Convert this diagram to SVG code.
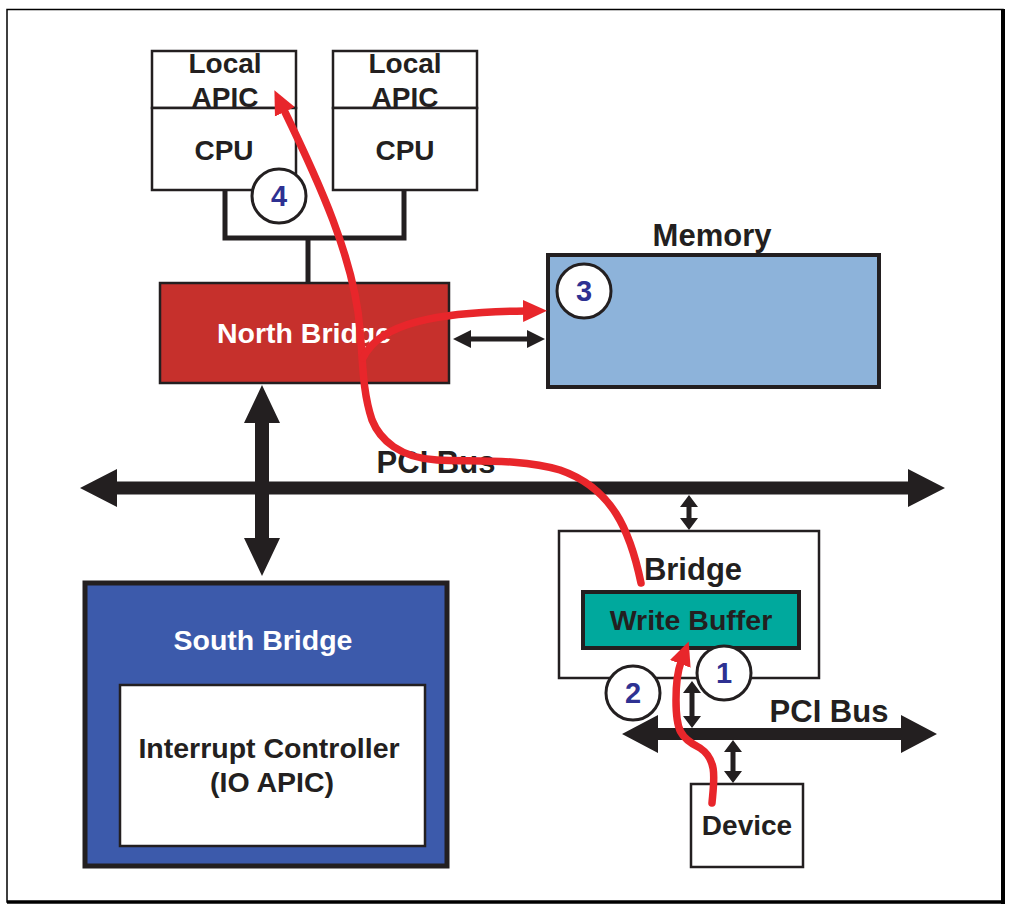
<svg xmlns="http://www.w3.org/2000/svg" width="1011" height="910" viewBox="0 0 1011 910">
<style>
text{font-family:"Liberation Sans",Arial,sans-serif;font-weight:bold;text-anchor:middle}
.dk{fill:#231f20}
.wt{fill:#ffffff}
.num{fill:#2e3192;font-size:29px}
.box{fill:#ffffff;stroke:#231f20;stroke-width:2.5}
.circ{fill:#ffffff;stroke:#231f20;stroke-width:3}
.conn{fill:#231f20}
.wire{fill:none;stroke:#231f20;stroke-width:5}
.red{fill:none;stroke:#e8262b;stroke-width:7.5;stroke-linecap:round}
</style>
<defs>
<marker id="rh" markerUnits="userSpaceOnUse" markerWidth="26" markerHeight="24" refX="2" refY="11" orient="auto" viewBox="0 0 26 22">
<path d="M0,0 L24,11 L0,22 z" fill="#e8262b"/>
</marker>
</defs>
<rect width="1011" height="910" fill="#ffffff"/>
<rect x="7" y="9.5" width="996" height="892.5" fill="none" stroke="#000" stroke-width="1.5"/>
<line x1="1003" y1="9" x2="1003" y2="904" stroke="#000" stroke-width="4"/>
<line x1="7" y1="902" x2="1005" y2="902" stroke="#000" stroke-width="3.5"/>

<g id="cpu1">
<rect class="box" x="152" y="51" width="144" height="57"/>
<text class="dk" x="225" y="73" font-size="28">Local</text>
<text class="dk" x="225" y="107" font-size="28">APIC</text>
<rect class="box" x="152" y="108" width="144" height="82"/>
<text class="dk" x="224" y="160" font-size="28">CPU</text>
</g>
<g id="cpu2">
<rect class="box" x="333" y="51" width="144" height="57"/>
<text class="dk" x="405" y="73" font-size="28">Local</text>
<text class="dk" x="405" y="107" font-size="28">APIC</text>
<rect class="box" x="333" y="108" width="144" height="82"/>
<text class="dk" x="405" y="160" font-size="28">CPU</text>
</g>
<g id="northbridge">
<rect x="160" y="283" width="289" height="100" fill="#c6302c" stroke="#231f20" stroke-width="2.5"/>
<text class="wt" x="304" y="343" font-size="28.5">North Bridge</text>
</g>
<g id="memory">
<text class="dk" x="712" y="246" font-size="31">Memory</text>
<rect x="548" y="255" width="331" height="132" fill="#8db3da" stroke="#231f20" stroke-width="4"/>
</g>
<g id="southbridge">
<rect x="85" y="583" width="362" height="283" fill="#3c5aab" stroke="#231f20" stroke-width="5"/>
<text class="wt" x="263" y="650" font-size="28.5">South Bridge</text>
<rect class="box" x="120" y="685" width="305" height="161" stroke-width="3"/>
<text class="dk" x="269" y="758" font-size="28.5">Interrupt Controller</text>
<text class="dk" x="272" y="792" font-size="28.5">(IO APIC)</text>
</g>
<g id="bridge">
<rect class="box" x="559" y="531" width="260" height="147" stroke-width="4"/>
<text class="dk" x="693" y="580" font-size="31">Bridge</text>
<rect x="583" y="592" width="216" height="56" fill="#00a99d" stroke="#231f20" stroke-width="4"/>
<text class="dk" x="691" y="630" font-size="28.5">Write Buffer</text>
</g>
<g id="device">
<rect class="box" x="691" y="784" width="112" height="83" stroke-width="4"/>
<text class="dk" x="747" y="835" font-size="28">Device</text>
</g>
<g id="buslabels">
<text class="dk" x="436" y="473" font-size="31">PCI Bus</text>
<text class="dk" x="829" y="722" font-size="31">PCI Bus</text>
</g>

<g id="connectors">
<path class="wire" d="M225,190 V238 H404 V190"/>
<path class="wire" d="M308,238 V283"/>
<polygon class="conn" points="80,488 117,469 117,481.5 908,481.5 908,469 945,488 908,507 908,494.5 117,494.5 117,507"/>
<polygon class="conn" points="622,734 658,715 658,728 901,728 901,715 937,734 901,753 901,740 658,740 658,753"/>
<polygon class="conn" points="262,385 280,423 269,423 269,538 280,538 262,576 244,538 255,538 255,423 244,423"/>
<polygon class="conn" points="453,339 471,330 471,336.5 527,336.5 527,330 545,339 527,348 527,341.5 471,341.5 471,348"/>
<polygon class="conn" points="689,495 698,507 691.5,507 691.5,518 698,518 689,530 680,518 686.5,518 686.5,507 680,507"/>
<polygon class="conn" points="692,681 701,693 694.5,693 694.5,716 701,716 692,728 683,716 689.5,716 689.5,693 683,693"/>
<polygon class="conn" points="733,740 742,752 735.5,752 735.5,771 742,771 733,783 724,771 730.5,771 730.5,752 724,752"/>
<path class="red" d="M641,583 C630,530 612,488 560,470 C520,458 470,462 437,460 C400,458 380,440 372,420 C362,390 363,360 360,330 C355,260 318,180 284,110" marker-end="url(#rh)"/>
<path class="red" d="M363,358 C380,322 440,312 525,311" marker-end="url(#rh)"/>
<path class="red" d="M712,803 C714,780 718,760 700,748 C680,738 676,730 676,700 C676,680 678,670 681,662" marker-end="url(#rh)"/>
</g>

<g id="step1"><circle class="circ" cx="724" cy="673" r="27"/><text class="num" x="724" y="683">1</text></g>
<g id="step2"><circle class="circ" cx="633" cy="693" r="27"/><text class="num" x="633" y="703">2</text></g>
<g id="step3"><circle class="circ" cx="584" cy="291" r="27"/><text class="num" x="584" y="301">3</text></g>
<g id="step4"><circle class="circ" cx="279" cy="196" r="27"/><text class="num" x="279" y="206">4</text></g>
</svg>
